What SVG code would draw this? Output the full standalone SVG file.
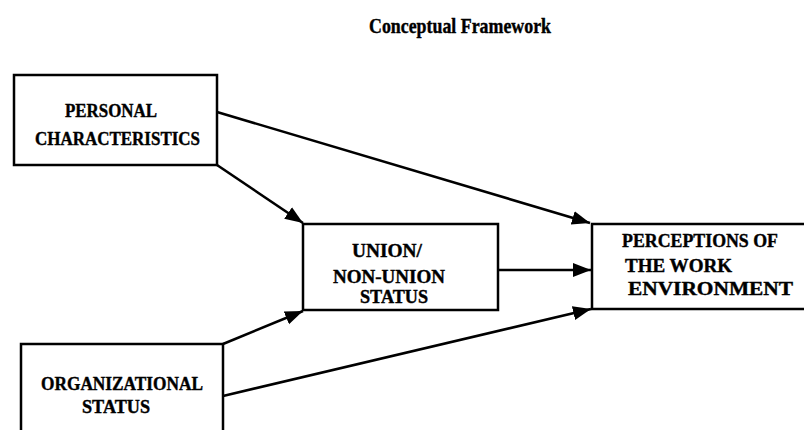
<svg xmlns="http://www.w3.org/2000/svg" width="804" height="430" viewBox="0 0 804 430">
<style>
.box{fill:none;stroke:#000;stroke-width:2.5}
.lbl{font-family:"Liberation Serif","DejaVu Serif",serif;font-weight:bold;font-size:18.5px;fill:#000;stroke:#000;stroke-width:0.4}
.title{font-family:"Liberation Serif","DejaVu Serif",serif;font-weight:bold;font-size:21px;fill:#000;stroke:#000;stroke-width:0.4}
.conn line{stroke:#000;stroke-width:2.6;marker-end:url(#arr)}
</style>
<defs>
<marker id="arr" markerUnits="userSpaceOnUse" markerWidth="20" markerHeight="16" refX="18" refY="8" orient="auto">
<path d="M0,1 L18,8 L0,15 z" fill="#000"/>
</marker>
</defs>
<rect width="804" height="430" fill="#fff"/>
<text class="title" x="369" y="33" textLength="182" lengthAdjust="spacingAndGlyphs">Conceptual Framework</text>
<g id="personal">
<rect class="box" x="14" y="75" width="203" height="90"/>
<text class="lbl" x="65" y="117" textLength="92" lengthAdjust="spacingAndGlyphs">PERSONAL</text>
<text class="lbl" x="35" y="145" textLength="165" lengthAdjust="spacingAndGlyphs">CHARACTERISTICS</text>
</g>
<g id="organizational">
<path class="box" d="M21,432 V344 H223 V432"/>
<text class="lbl" x="41" y="390" textLength="162" lengthAdjust="spacingAndGlyphs">ORGANIZATIONAL</text>
<text class="lbl" x="82" y="413" textLength="68" lengthAdjust="spacingAndGlyphs">STATUS</text>
</g>
<g id="union">
<rect class="box" x="303" y="224" width="195" height="86"/>
<text class="lbl" x="352" y="257" textLength="70" lengthAdjust="spacingAndGlyphs">UNION/</text>
<text class="lbl" x="333" y="283" textLength="112" lengthAdjust="spacingAndGlyphs">NON-UNION</text>
<text class="lbl" x="360" y="303" textLength="68" lengthAdjust="spacingAndGlyphs">STATUS</text>
</g>
<g id="perceptions">
<path class="box" d="M806,224 H592 V309 H806"/>
<text class="lbl" x="622" y="247" textLength="156" lengthAdjust="spacingAndGlyphs">PERCEPTIONS OF</text>
<text class="lbl" x="625" y="272" textLength="107" lengthAdjust="spacingAndGlyphs">THE  WORK</text>
<text class="lbl" x="628" y="295" textLength="165" lengthAdjust="spacingAndGlyphs">ENVIRONMENT</text>
</g>
<g id="connectors" class="conn">
<line x1="217" y1="112" x2="590" y2="223"/>
<line x1="217" y1="165" x2="303" y2="223"/>
<line x1="498" y1="270" x2="591" y2="270"/>
<line x1="223" y1="344" x2="303" y2="311"/>
<line x1="223" y1="396" x2="591" y2="309"/>
</g>
</svg>
